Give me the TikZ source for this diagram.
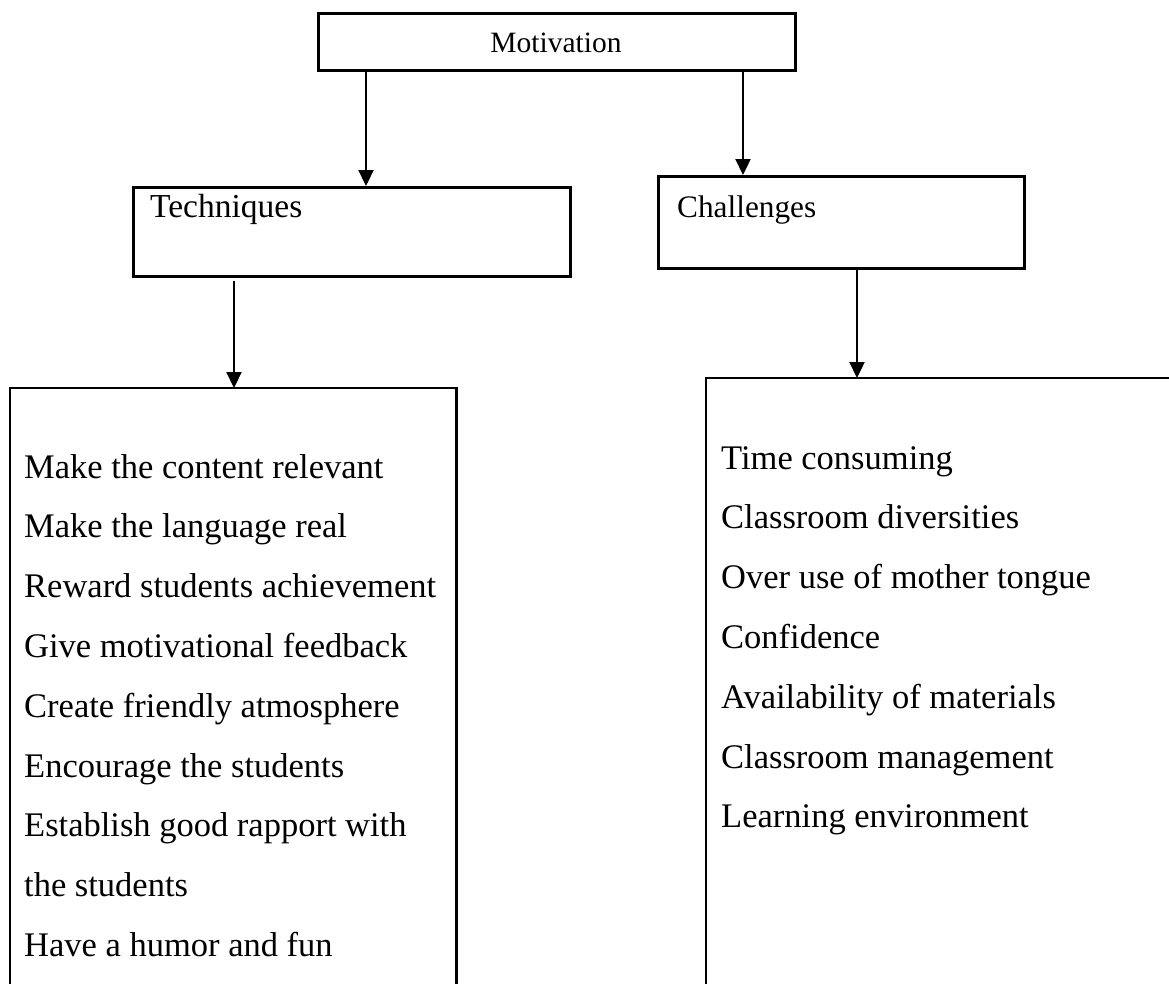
\documentclass[tikz,border=0pt]{standalone}
\usepackage{fontspec}
\setmainfont{Liberation Serif}
\usetikzlibrary{arrows.meta}
\begin{document}
\begin{tikzpicture}[x=1pt,y=-1pt,
  box/.style={draw, line width=2.5pt, rectangle, inner sep=0pt, anchor=north west},
  openbox/.style={rectangle, inner sep=0pt, anchor=north west},
  conn/.style={line width=2.3pt, -{Triangle[length=16pt,width=15pt]}},
  item/.style={anchor=base west, inner sep=0pt, font=\fontsize{34.5}{40}\selectfont},
  head/.style={anchor=base west, inner sep=0pt}
]
\useasboundingbox (0,0) rectangle (1169,983);
\clip (0,0) rectangle (1169,983);

% Top box
\node[box, minimum width=477pt, minimum height=57pt] (mot) at (317,12) {};
\node[anchor=base, inner sep=0pt, font=\fontsize{29.5}{34}\selectfont] (mott) at (556,52) {Motivation};

% Second level boxes
\node[box, minimum width=437pt, minimum height=89pt] (tech) at (132,186) {};
\node[head, font=\fontsize{33.5}{38}\selectfont] (techt) at (150,217) {Techniques};

\node[box, minimum width=366pt, minimum height=92pt] (chal) at (657,175) {};
\node[head, font=\fontsize{31.3}{36}\selectfont] (chalt) at (677,217) {Challenges};

% Bottom boxes (open at the bottom)
\node[openbox, minimum width=446pt, minimum height=620pt] (lbox) at (10,388) {};
\draw[line width=2.5pt] (lbox.south west) -- (lbox.north west) -- (lbox.north east) -- (lbox.south east);
\node[openbox, minimum width=470pt, minimum height=630pt] (rbox) at (706,378) {};
\draw[line width=2.5pt] (rbox.south west) -- (rbox.north west) -- (rbox.north east);

% Connectors
\draw[conn] (mot.south -| 366,0) -- (tech.north -| 366,0);
\draw[conn] (mot.south -| 743,0) -- (chal.north -| 743,0);
\draw[conn] ([yshift=-3pt]tech.south -| 234,0) -- (lbox.north -| 234,0);
\draw[conn] (chal.south -| 857,0) -- (rbox.north -| 857,0);

% Technique items
\foreach \t [count=\i from 0] in {Make the content relevant, Make the language real,
  Reward students achievement, Give motivational feedback, Create friendly atmosphere,
  Encourage the students, Establish good rapport with, the students, Have a humor and fun}
  \node[item] (t\i) at (24, 478+59.8*\i) {\t};

% Challenge items
\foreach \t [count=\i from 0] in {Time consuming, Classroom diversities, Over use of mother tongue,
  Confidence, Availability of materials, Classroom management, Learning environment}
  \node[item] (c\i) at (721, 469+59.8*\i) {\t};
\end{tikzpicture}
\end{document}
